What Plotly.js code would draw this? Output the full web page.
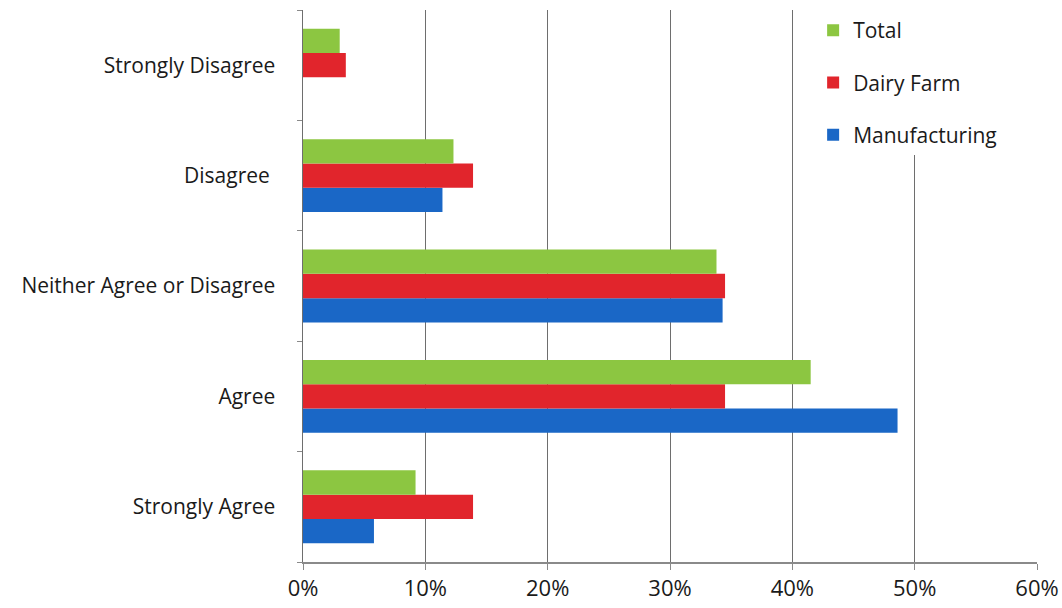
<!DOCTYPE html>
<html>
<head>
<meta charset="utf-8">
<script src="https://cdn.plot.ly/plotly-3.0.1.min.js"></script>
<style>
  html, body { margin: 0; padding: 0; background: #ffffff; }
  #chart { width: 1062px; height: 608px; }
</style>
</head>
<body>
<div id="chart"></div>
<script>
// Response categories, listed bottom to top on the vertical axis
const categories = ['Strongly Agree', 'Agree', 'Neither Agree or Disagree', 'Disagree ', 'Strongly Disagree'];

// Share of respondents (%) per group
const manufacturing = [5.8, 48.6, 34.3, 11.4, 0];
const dairyFarm     = [13.9, 34.5, 34.5, 13.9, 3.5];
const total         = [9.2, 41.5, 33.8, 12.3, 3.0];

const xTicks = [0, 10, 20, 30, 40, 50, 60];
const xTickLabels = ['0%', '10%', '20%', '30%', '40%', '50%', '60%'];

const font = '"Open Sans", "Noto Sans", sans-serif';

function series(name, values, color, group, rank) {
  return {
    type: 'bar',
    orientation: 'h',
    name: name,
    y: categories,
    x: values,
    marker: { color: color, line: { width: 0 } },
    legendgroup: group,
    legendrank: rank,
    hoverinfo: 'x+name'
  };
}

const data = [
  series('Manufacturing', manufacturing, '#1a67c6', 'm', 3),
  series('Dairy Farm', dairyFarm, '#e1252c', 'd', 2),
  series('Total', total, '#8cc641', 't', 1)
];

const layout = {
  width: 1062,
  height: 608,
  margin: { l: 303, r: 25, t: 10, b: 46 },
  paper_bgcolor: '#ffffff',
  plot_bgcolor: '#ffffff',
  barmode: 'group',
  bargap: 0.34,
  bargroupgap: 0,
  font: { family: font, size: 21, color: '#1a1a1a' },
  showlegend: true,
  legend: {
    x: 0.695, xanchor: 'left',
    y: 1.0, yanchor: 'top',
    bgcolor: '#ffffff',
    traceorder: 'grouped',
    tracegroupgap: 22,
    font: { family: font, size: 21, color: '#1a1a1a' },
    itemwidth: 30
  },
  xaxis: {
    range: [0, 60],
    tickvals: xTicks,
    ticktext: xTickLabels,
    showgrid: true,
    gridcolor: '#6e6e6e',
    gridwidth: 1,
    zeroline: false,
    showline: true,
    linecolor: '#8a8a8a',
    linewidth: 1.5,
    ticks: 'outside',
    ticklen: 6,
    tickcolor: '#8a8a8a',
    tickfont: { family: font, size: 22, color: '#1a1a1a' },
    fixedrange: true
  },
  yaxis: {
    type: 'category',
    categoryorder: 'array',
    categoryarray: categories,
    tickson: 'boundaries',
    ticks: 'outside',
    ticklen: 5,
    tickcolor: '#8a8a8a',
    showgrid: false,
    showline: true,
    linecolor: '#6e6e6e',
    linewidth: 1.5,
    ticklabelstandoff: 22,
    tickfont: { family: font, size: 21, color: '#1a1a1a' },
    fixedrange: true
  }
};

Plotly.newPlot('chart', data, layout, { displayModeBar: false, staticPlot: true });
</script>
</body>
</html>
